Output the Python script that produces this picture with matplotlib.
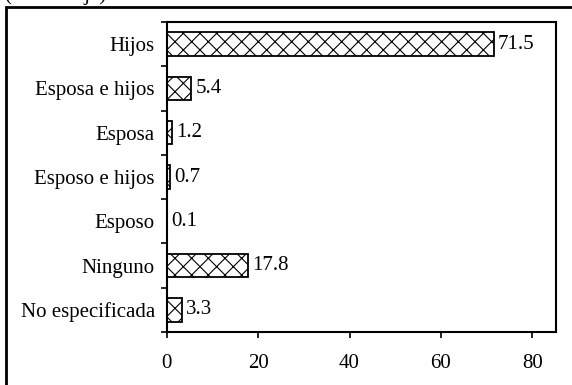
import matplotlib.pyplot as plt
from matplotlib.patches import Rectangle

categories = ['Hijos', 'Esposa e hijos', 'Esposa', 'Esposo e hijos',
              'Esposo', 'Ninguno', 'No especificada']
values = [71.5, 5.4, 1.2, 0.7, 0.1, 17.8, 3.3]
xticks = [0, 20, 40, 60, 80]

plt.rcParams['font.family'] = ['Liberation Serif', 'DejaVu Serif']
plt.rcParams['hatch.linewidth'] = 0.8
fs = 15

W, H = 572, 385
fig = plt.figure(figsize=(W / 100, H / 100), dpi=100)

# outer frame, cut at right and bottom
fig.patches.append(Rectangle((5.5 / W, -0.1), 1.2, 1 - 6.5 / H + 0.1,
                             transform=fig.transFigure, fill=False,
                             edgecolor='black', linewidth=2))
fig.text(4 / W, 1.0, '(Porcentaje)', fontsize=fs, ha='left', va='baseline')

left, right, top, bottom = 166.7, 555.7, 22, 332
ax = fig.add_axes([left / W, 1 - bottom / H, (right - left) / W, (bottom - top) / H])

n = len(categories)
pos = list(range(n))
ax.barh(pos, values, height=0.53, color='white', edgecolor='black',
        linewidth=1.3, hatch='xx')
for p, v in zip(pos, values):
    ax.annotate(f'{v}', (v, p), xytext=(4, 0), textcoords='offset pixels',
                ha='left', va='center', fontsize=fs)

ax.set_ylim(n - 0.5, -0.5)
ax.set_xlim(0, 85.1)
ax.set_yticks(pos, categories, fontsize=fs)
ax.tick_params(axis='y', length=0, pad=8.5)
ax.set_yticks([i - 0.5 for i in range(n + 1)], minor=True)
ax.tick_params(axis='y', which='minor', length=4, width=1.2)
ax.set_xticks(xticks, [str(t) for t in xticks], fontsize=fs)
ax.tick_params(axis='x', length=4, width=1.2, pad=12)
for s in ax.spines.values():
    s.set_linewidth(1.5)

fig.savefig('out.png', dpi=100)
